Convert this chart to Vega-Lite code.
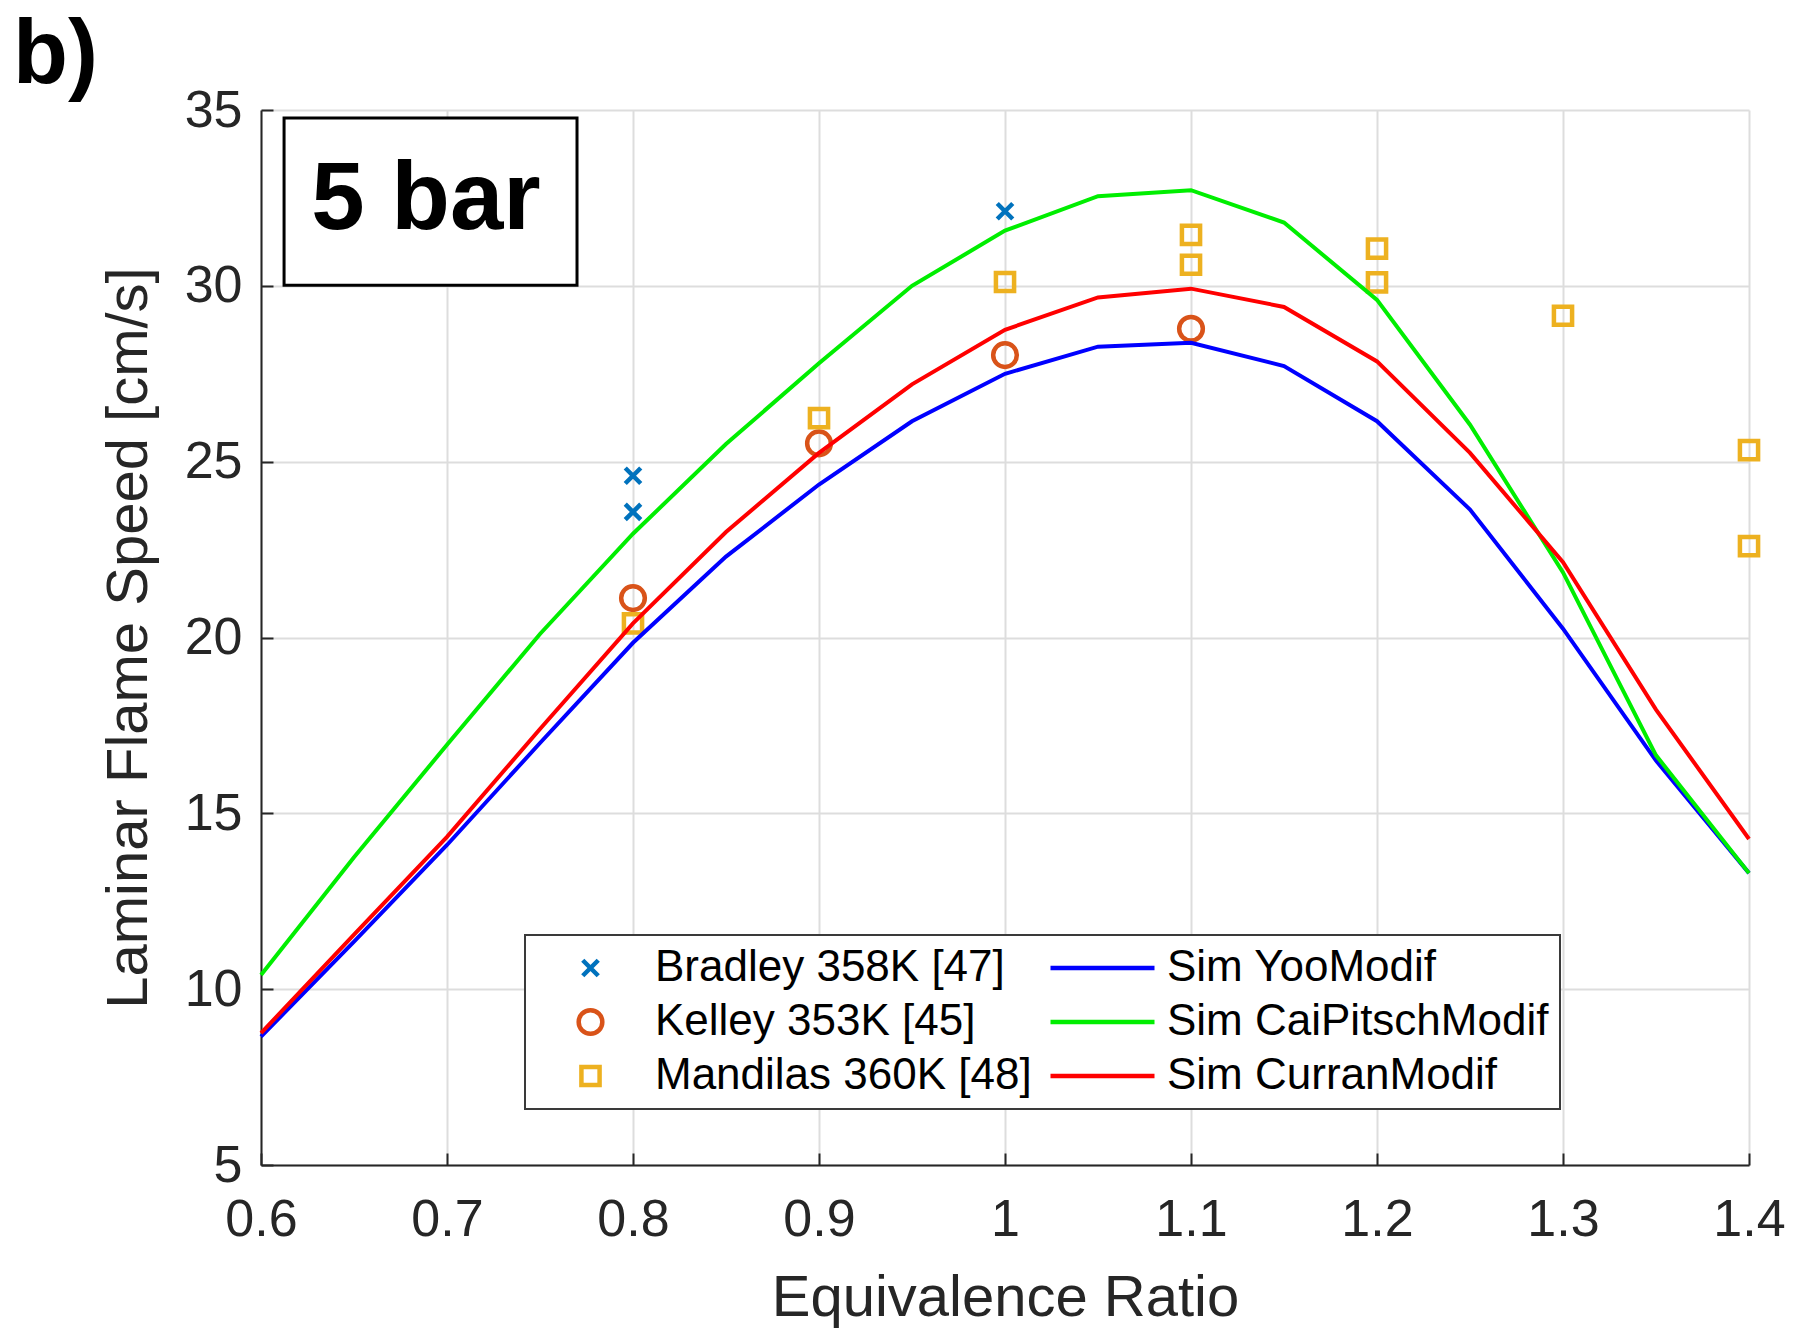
{
  "$schema": "https://vega.github.io/schema/vega-lite/v6.json",
  "width": 1488,
  "height": 1055,
  "autosize": {"type": "none"},
  "padding": {"left": 261, "top": 110, "right": 47, "bottom": 163},
  "background": "white",
  "title": {
    "text": "b)",
    "anchor": "start",
    "frame": "group",
    "fontSize": 90,
    "fontWeight": "bold",
    "font": "Liberation Sans",
    "color": "black",
    "dx": -248,
    "dy": 18,
    "offset": 0
  },
  "config": {
    "view": {"stroke": null},
    "font": "Liberation Sans",
    "axis": {
      "domainColor": "#262626",
      "domainWidth": 2,
      "gridColor": "#DDDDDD",
      "gridWidth": 2,
      "tickColor": "#262626",
      "tickWidth": 2,
      "tickSize": -12,
      "labelFont": "Liberation Sans",
      "labelFontSize": 52,
      "labelColor": "#262626",
      "labelFlush": false,
      "titleFont": "Liberation Sans",
      "titleFontSize": 58,
      "titleFontWeight": "normal",
      "titleColor": "#262626"
    },
    "legend": {
      "orient": "none",
      "legendX": 264,
      "legendY": 825,
      "columns": 2,
      "columnPadding": 16,
      "rowPadding": 10,
      "padding": 11,
      "strokeColor": "#3a3a3a",
      "strokeWidth": 2,
      "fillColor": "white",
      "labelFont": "Liberation Sans",
      "labelFontSize": 44,
      "labelColor": "black",
      "labelOffset": 10,
      "labelLimit": 0,
      "symbolStrokeWidth": 4.5,
      "symbolOpacity": 1,
      "symbolOffset": 0,
      "clipHeight": 44,
      "titlePadding": 0
    }
  },
  "datasets": {
    "sim": [
      {"phi": 0.6, "speed": 8.65, "series": "Sim YooModif"},
      {"phi": 0.65, "speed": 11.35, "series": "Sim YooModif"},
      {"phi": 0.7, "speed": 14.1, "series": "Sim YooModif"},
      {"phi": 0.75, "speed": 17.0, "series": "Sim YooModif"},
      {"phi": 0.8, "speed": 19.85, "series": "Sim YooModif"},
      {"phi": 0.85, "speed": 22.3, "series": "Sim YooModif"},
      {"phi": 0.9, "speed": 24.35, "series": "Sim YooModif"},
      {"phi": 0.95, "speed": 26.15, "series": "Sim YooModif"},
      {"phi": 1.0, "speed": 27.5, "series": "Sim YooModif"},
      {"phi": 1.05, "speed": 28.27, "series": "Sim YooModif"},
      {"phi": 1.1, "speed": 28.38, "series": "Sim YooModif"},
      {"phi": 1.15, "speed": 27.72, "series": "Sim YooModif"},
      {"phi": 1.2, "speed": 26.15, "series": "Sim YooModif"},
      {"phi": 1.25, "speed": 23.64, "series": "Sim YooModif"},
      {"phi": 1.3, "speed": 20.25, "series": "Sim YooModif"},
      {"phi": 1.35, "speed": 16.5, "series": "Sim YooModif"},
      {"phi": 1.4, "speed": 13.3, "series": "Sim YooModif"},
      {"phi": 0.6, "speed": 10.4, "series": "Sim CaiPitschModif"},
      {"phi": 0.65, "speed": 13.75, "series": "Sim CaiPitschModif"},
      {"phi": 0.7, "speed": 16.95, "series": "Sim CaiPitschModif"},
      {"phi": 0.75, "speed": 20.1, "series": "Sim CaiPitschModif"},
      {"phi": 0.8, "speed": 22.95, "series": "Sim CaiPitschModif"},
      {"phi": 0.85, "speed": 25.5, "series": "Sim CaiPitschModif"},
      {"phi": 0.9, "speed": 27.8, "series": "Sim CaiPitschModif"},
      {"phi": 0.95, "speed": 30.0, "series": "Sim CaiPitschModif"},
      {"phi": 1.0, "speed": 31.57, "series": "Sim CaiPitschModif"},
      {"phi": 1.05, "speed": 32.55, "series": "Sim CaiPitschModif"},
      {"phi": 1.1, "speed": 32.72, "series": "Sim CaiPitschModif"},
      {"phi": 1.15, "speed": 31.8, "series": "Sim CaiPitschModif"},
      {"phi": 1.2, "speed": 29.6, "series": "Sim CaiPitschModif"},
      {"phi": 1.25, "speed": 26.05, "series": "Sim CaiPitschModif"},
      {"phi": 1.3, "speed": 21.85, "series": "Sim CaiPitschModif"},
      {"phi": 1.35, "speed": 16.65, "series": "Sim CaiPitschModif"},
      {"phi": 1.4, "speed": 13.3, "series": "Sim CaiPitschModif"},
      {"phi": 0.6, "speed": 8.75, "series": "Sim CurranModif"},
      {"phi": 0.65, "speed": 11.55, "series": "Sim CurranModif"},
      {"phi": 0.7, "speed": 14.33, "series": "Sim CurranModif"},
      {"phi": 0.75, "speed": 17.4, "series": "Sim CurranModif"},
      {"phi": 0.8, "speed": 20.4, "series": "Sim CurranModif"},
      {"phi": 0.85, "speed": 23.0, "series": "Sim CurranModif"},
      {"phi": 0.9, "speed": 25.25, "series": "Sim CurranModif"},
      {"phi": 0.95, "speed": 27.2, "series": "Sim CurranModif"},
      {"phi": 1.0, "speed": 28.75, "series": "Sim CurranModif"},
      {"phi": 1.05, "speed": 29.67, "series": "Sim CurranModif"},
      {"phi": 1.1, "speed": 29.92, "series": "Sim CurranModif"},
      {"phi": 1.15, "speed": 29.4, "series": "Sim CurranModif"},
      {"phi": 1.2, "speed": 27.85, "series": "Sim CurranModif"},
      {"phi": 1.25, "speed": 25.25, "series": "Sim CurranModif"},
      {"phi": 1.3, "speed": 22.14, "series": "Sim CurranModif"},
      {"phi": 1.35, "speed": 17.95, "series": "Sim CurranModif"},
      {"phi": 1.4, "speed": 14.27, "series": "Sim CurranModif"}
    ],
    "exp": [
      {"phi": 0.8, "speed": 24.6, "series": "Bradley 358K [47]"},
      {"phi": 0.8, "speed": 23.57, "series": "Bradley 358K [47]"},
      {"phi": 1.0, "speed": 32.12, "series": "Bradley 358K [47]"},
      {"phi": 0.8, "speed": 21.12, "series": "Kelley 353K [45]"},
      {"phi": 0.9, "speed": 25.52, "series": "Kelley 353K [45]"},
      {"phi": 1.0, "speed": 28.03, "series": "Kelley 353K [45]"},
      {"phi": 1.1, "speed": 28.78, "series": "Kelley 353K [45]"},
      {"phi": 0.8, "speed": 20.4, "series": "Mandilas 360K [48]"},
      {"phi": 0.9, "speed": 26.24, "series": "Mandilas 360K [48]"},
      {"phi": 1.0, "speed": 30.11, "series": "Mandilas 360K [48]"},
      {"phi": 1.1, "speed": 31.45, "series": "Mandilas 360K [48]"},
      {"phi": 1.1, "speed": 30.6, "series": "Mandilas 360K [48]"},
      {"phi": 1.2, "speed": 31.06, "series": "Mandilas 360K [48]"},
      {"phi": 1.2, "speed": 30.1, "series": "Mandilas 360K [48]"},
      {"phi": 1.3, "speed": 29.15, "series": "Mandilas 360K [48]"},
      {"phi": 1.4, "speed": 25.33, "series": "Mandilas 360K [48]"},
      {"phi": 1.4, "speed": 22.6, "series": "Mandilas 360K [48]"}
    ]
  },
  "layer": [
    {
      "data": {"name": "exp"},
      "mark": {"type": "point", "filled": false, "opacity": 1, "strokeWidth": 4.5},
      "encoding": {
        "x": {
          "field": "phi",
          "type": "quantitative",
          "scale": {"domain": [0.6, 1.4], "nice": false, "zero": false},
          "axis": {
            "title": "Equivalence Ratio",
            "values": [0.6, 0.7, 0.8, 0.9, 1.0, 1.1, 1.2, 1.3, 1.4],
            "format": "~g",
            "labelPadding": 41,
            "titlePadding": 24
          }
        },
        "y": {
          "field": "speed",
          "type": "quantitative",
          "scale": {"domain": [5, 35], "nice": false, "zero": false},
          "axis": {
            "title": "Laminar Flame Speed [cm/s]",
            "values": [5, 10, 15, 20, 25, 30, 35],
            "labelPadding": 31,
            "titlePadding": 26
          }
        },
        "color": {
          "field": "series",
          "type": "nominal",
          "scale": {
            "domain": ["Bradley 358K [47]", "Kelley 353K [45]", "Mandilas 360K [48]", "Sim YooModif", "Sim CaiPitschModif", "Sim CurranModif"],
            "range": ["#0072BD", "#D95319", "#EDB120", "#0000FF", "#00EE00", "#FF0000"]
          },
          "legend": {
            "title": null,
            "encode": {
              "symbols": {
                "update": {
                  "fill": {"value": "transparent"}
                }
              }
            }
          }
        },
        "shape": {
          "field": "series",
          "type": "nominal",
          "scale": {
            "domain": ["Bradley 358K [47]", "Kelley 353K [45]", "Mandilas 360K [48]", "Sim YooModif", "Sim CaiPitschModif", "Sim CurranModif"],
            "range": ["M-1,-1L1,1M-1,1L1,-1", "circle", "square", "stroke", "stroke", "stroke"]
          },
          "legend": {"title": null}
        },
        "size": {
          "field": "series",
          "type": "nominal",
          "scale": {
            "type": "ordinal",
            "domain": ["Bradley 358K [47]", "Kelley 353K [45]", "Mandilas 360K [48]", "Sim YooModif", "Sim CaiPitschModif", "Sim CurranModif"],
            "range": [240, 560, 330, 10816, 10816, 10816]
          },
          "legend": {"title": null}
        }
      }
    },
    {
      "data": {"name": "sim"},
      "mark": {"type": "line", "strokeWidth": 4},
      "encoding": {
        "x": {"field": "phi", "type": "quantitative"},
        "y": {"field": "speed", "type": "quantitative"},
        "color": {"field": "series", "type": "nominal"}
      }
    },
    {
      "data": {"values": [{}]},
      "mark": {"type": "rect", "fill": "white", "stroke": "black", "strokeWidth": 3},
      "encoding": {
        "x": {"datum": 0.6124, "type": "quantitative"},
        "x2": {"datum": 0.7699},
        "y": {"datum": 34.77, "type": "quantitative"},
        "y2": {"datum": 30.02}
      }
    },
    {
      "data": {"values": [{}]},
      "mark": {"type": "text", "text": "5 bar", "font": "Liberation Sans", "fontSize": 96, "fontWeight": "bold", "color": "black", "align": "center", "baseline": "middle"},
      "encoding": {
        "x": {"datum": 0.6887, "type": "quantitative"},
        "y": {"datum": 32.45, "type": "quantitative"}
      }
    }
  ]
}
